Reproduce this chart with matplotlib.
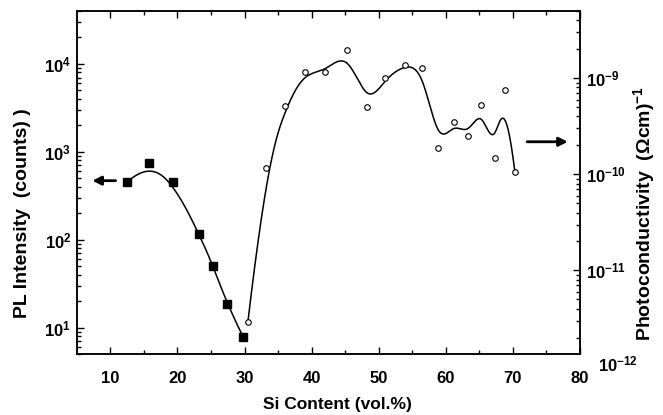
import numpy as np
import matplotlib
matplotlib.use('Agg')
from matplotlib import pyplot as plt
from matplotlib.ticker import FixedLocator, LogLocator, NullFormatter, FuncFormatter

plt.rcParams['font.family'] = ['Liberation Sans', 'DejaVu Sans']
plt.rcParams['font.weight'] = 'bold'
plt.rcParams['mathtext.fontset'] = 'custom'
plt.rcParams['mathtext.rm'] = 'Liberation Sans:bold'
plt.rcParams['mathtext.bf'] = 'Liberation Sans:bold'
plt.rcParams['mathtext.it'] = 'Liberation Sans:bold'

# PL intensity (filled squares, left axis)
pl_si = [12.5, 15.8, 19.4, 23.2, 25.35, 27.4, 29.8]
pl_counts = [454, 750, 454, 116, 50.5, 18.4, 7.8]

# photoconductivity (open circles, right axis)
pc_si = [30.5, 33.2, 36.1, 39.0, 42.0, 45.3, 48.3, 51.0, 53.9, 56.5,
         58.9, 61.2, 63.3, 65.3, 67.3, 68.8, 70.3]
pc_sigma = [2.9e-12, 1.16e-10, 5.1e-10, 1.16e-9, 1.15e-9, 1.98e-9, 5.0e-10,
            1.0e-9, 1.38e-9, 1.27e-9, 1.9e-10, 3.5e-10, 2.5e-10, 5.2e-10,
            1.46e-10, 7.6e-10, 1.05e-10]


def bspline(x, y, k=3, num=600):
    # clamped cubic B-spline, data points used as control points (log y)
    P = np.column_stack([x, np.log10(y)])
    n = len(P)
    t = np.concatenate([np.zeros(k), np.arange(n - k + 1), np.full(k, n - k)]).astype(float)
    u = np.linspace(0, n - k, num)
    N = np.zeros((num, len(t) - 1))
    for i in range(len(t) - 1):
        N[:, i] = (t[i] <= u) & (u < t[i + 1])
    N[-1, :] = 0
    N[-1, n - 1] = 1
    for d in range(1, k + 1):
        M = np.zeros((num, len(t) - 1 - d))
        for i in range(len(t) - 1 - d):
            a = (u - t[i]) / (t[i + d] - t[i]) if t[i + d] > t[i] else 0
            b = (t[i + d + 1] - u) / (t[i + d + 1] - t[i + 1]) if t[i + d + 1] > t[i + 1] else 0
            M[:, i] = a * N[:, i] + b * N[:, i + 1]
        N = M
    C = N @ P
    return C[:, 0], 10**C[:, 1]


fig = plt.figure(figsize=(6.63, 4.15), dpi=100)
ax = fig.add_axes([0.1158, 0.147, 0.759, 0.8265])
ax2 = ax.twinx()

gx, gy = bspline(pl_si, pl_counts)
ax.plot(gx, gy, color='black', lw=1.1)
ax.plot(pl_si, pl_counts, 's', color='black', ms=5.5)

hx, hy = bspline(pc_si, pc_sigma)
ax2.plot(hx, hy, color='black', lw=1.1)
ax2.plot(pc_si, pc_sigma, 'o', mfc='white', mec='black', mew=0.8, ms=4)

ax.set_xlim(5, 80)
ax.set_yscale('log')
ax.set_ylim(5, 4e4)
ax2.set_yscale('log')
ax2.set_ylim(1.35e-12, 5e-9)

ax.xaxis.set_major_locator(FixedLocator([10, 20, 30, 40, 50, 60, 70, 80]))
ax.xaxis.set_minor_locator(FixedLocator([15, 25, 35, 45, 55, 65, 75]))

fmt = FuncFormatter(lambda v, p: r'$\mathbf{10^{%d}}$' % round(np.log10(v)))
ax.yaxis.set_major_locator(FixedLocator([1e1, 1e2, 1e3, 1e4]))
ax2.yaxis.set_major_locator(FixedLocator([1e-11, 1e-10, 1e-9]))
for a in (ax, ax2):
    a.yaxis.set_minor_locator(LogLocator(base=10, subs=np.arange(2, 10), numticks=20))
    a.yaxis.set_major_formatter(fmt)
    a.yaxis.set_minor_formatter(NullFormatter())
    for s in a.spines.values():
        s.set_linewidth(1.1)

ax.tick_params(axis='x', which='both', direction='in', top=True, labelsize=12, pad=12)
ax.tick_params(axis='both', which='major', length=5, width=1)
ax.tick_params(axis='both', which='minor', length=3, width=1)
ax.tick_params(axis='y', which='both', direction='in', labelsize=12, pad=4)
ax2.tick_params(axis='y', which='both', direction='in', labelsize=12, pad=4)
ax2.tick_params(axis='y', which='major', length=5, width=1)
ax2.tick_params(axis='y', which='minor', length=3, width=1)

# bottom decade label sits just below the right axis end
ax2.text(1.036, -0.03, r'$\mathbf{10^{-12}}$', transform=ax2.transAxes,
         fontsize=12, ha='left', va='center')

ax.set_xlabel('Si Content (vol.%)', fontsize=12.5, fontweight='bold')
ax.xaxis.set_label_coords(0.518, -0.125)
ax.set_ylabel('PL Intensity  (counts) )', fontsize=14, fontweight='bold')
ax.yaxis.set_label_coords(-0.09, 0.41)
ax2.set_ylabel(r'Photoconductivity  ($\mathbf{\Omega}$cm)$^{\mathbf{-1}}$',
               fontsize=14, fontweight='bold')
ax2.yaxis.set_label_coords(1.102, 0.41)

ax.annotate('', xy=(6.9, 469), xytext=(11.2, 469),
            arrowprops=dict(arrowstyle='-|>', color='black', lw=2, mutation_scale=13))
ax2.annotate('', xy=(78.6, 2.18e-10), xytext=(71.7, 2.18e-10),
             arrowprops=dict(arrowstyle='-|>', color='black', lw=2, mutation_scale=13))

fig.savefig('out.png', dpi=100)
